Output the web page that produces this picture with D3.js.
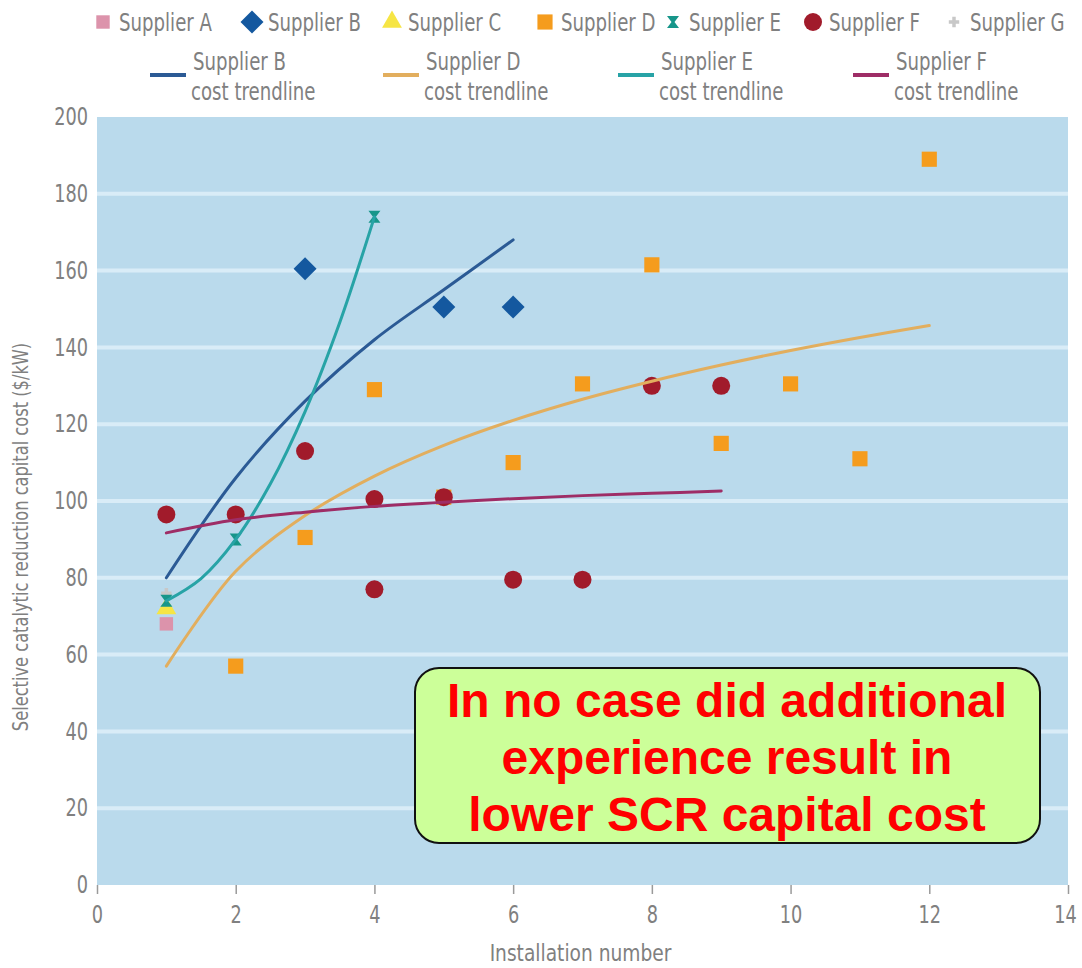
<!DOCTYPE html>
<html>
<head>
<meta charset="utf-8">
<script src="https://cdn.jsdelivr.net/npm/d3@7"></script>
<style>
  html, body { margin: 0; padding: 0; background: #ffffff; }
  svg { display: block; }
  .lbl { font-family: "DejaVu Sans Condensed", "DejaVu Sans", sans-serif; fill: #808080; }
</style>
</head>
<body>
<svg id="chart" width="1082" height="968"></svg>
<script>
// Installed-cost observations per supplier: [installation number, $/kW]
const supplierA = [[1, 68]];
const supplierB = [[3, 160.5], [5, 150.5], [6, 150.5]];
const supplierC = [[1, 72]];
const supplierD = [[2, 57], [3, 90.5], [4, 129], [5, 101], [6, 110], [7, 130.5], [8, 161.5], [9, 115], [10, 130.5], [11, 111], [12, 189]];
const supplierE = [[1, 74], [2, 90], [4, 174]];
const supplierF = [[1, 96.5], [2, 96.5], [3, 113], [4, 100.5], [4, 77], [5, 101], [6, 79.5], [7, 79.5], [8, 130], [9, 130]];
const supplierG = [[1, 76]];

// Cost trendlines, sampled along each fitted curve
const trendB = [[1, 80], [2, 106], [3, 126], [4, 142], [5, 155], [6, 168]];
const trendD = [[1, 57], [2, 81.7], [3, 96.2], [4, 106.5], [5, 114.5], [6, 121], [7, 126.5], [8, 131.2], [9, 135.4], [10, 139.2], [11, 142.6], [12, 145.7]];
const trendE = [[1, 74], [1.5, 79.8], [2, 90], [2.5, 104.5], [3, 123.3], [3.5, 146.5], [4, 174]];
const trendF = [[1, 91.7], [2, 95.1], [3, 97.1], [4, 98.6], [5, 99.7], [6, 100.6], [7, 101.4], [8, 102], [9, 102.6]];

const xTicks = [0, 2, 4, 6, 8, 10, 12, 14];
const yTicks = [0, 20, 40, 60, 80, 100, 120, 140, 160, 180, 200];

const pointLegend = ["Supplier A", "Supplier B", "Supplier C", "Supplier D", "Supplier E", "Supplier F", "Supplier G"];
const lineLegend = ["Supplier B", "Supplier D", "Supplier E", "Supplier F"];
const calloutLines = ["In no case did additional", "experience result in", "lower SCR capital cost"];

const svg = d3.select("#chart");
const plot = { left: 97, right: 1068, top: 117, bottom: 885 };

const x = d3.scaleLinear().domain([0, 14]).range([plot.left, plot.right]);
const y = d3.scaleLinear().domain([0, 200]).range([plot.bottom, plot.top]);

// squeeze text horizontally to mimic a condensed face
function narrow(sel, k) {
  sel.each(function () {
    const len = this.getComputedTextLength();
    d3.select(this).attr("textLength", len * k).attr("lengthAdjust", "spacingAndGlyphs");
  });
}

// plot background
svg.append("rect")
  .attr("x", plot.left).attr("y", plot.top)
  .attr("width", plot.right - plot.left).attr("height", plot.bottom - plot.top)
  .attr("fill", "#badaec");

// horizontal gridlines
svg.append("g").selectAll("line")
  .data(yTicks.filter(d => d > 0 && d < 200))
  .join("line")
  .attr("x1", plot.left).attr("x2", plot.right)
  .attr("y1", d => y(d)).attr("y2", d => y(d))
  .attr("stroke", "#d9ecf7").attr("stroke-width", 4);

// y axis
const yAxis = svg.append("g")
  .attr("transform", `translate(${plot.left},0)`)
  .call(d3.axisLeft(y).tickValues(yTicks).tickSize(0).tickPadding(9));
yAxis.select(".domain").remove();
yAxis.selectAll("text")
  .attr("class", "lbl")
  .style("font-size", "24px")
  .attr("fill", "#808080")
  .call(narrow, 0.82);

// x axis
const xAxis = svg.append("g")
  .attr("transform", `translate(0,${plot.bottom})`)
  .call(d3.axisBottom(x).tickValues(xTicks).tickSize(9).tickPadding(12));
xAxis.select(".domain").remove();
xAxis.selectAll("line").attr("stroke", "#9a9a9a").attr("stroke-width", 1.5);
xAxis.selectAll("text")
  .attr("class", "lbl")
  .style("font-size", "24px")
  .attr("fill", "#808080")
  .call(narrow, 0.82);
// keep the last label inside the page edge
xAxis.selectAll(".tick").filter(d => d === 14).select("text").attr("dx", -3);

// axis titles
svg.append("text").attr("class", "lbl")
  .attr("x", (plot.left + plot.right) / 2 - 2).attr("y", 961)
  .attr("text-anchor", "middle").style("font-size", "23px")
  .text("Installation number")
  .call(narrow, 0.9);

svg.append("text").attr("class", "lbl")
  .attr("transform", `translate(28,${537}) rotate(-90)`)
  .attr("text-anchor", "middle").style("font-size", "21px")
  .text("Selective catalytic reduction capital cost ($/kW)")
  .call(narrow, 0.86);

// marker styles
const colors = {
  A: "#dc93ab", B: "#14589f", C: "#f6e544", D: "#f59c1d",
  E: "#17968a", F: "#a11b2b", G: "#c8c8c8"
};
const symSquare = d3.symbol().type(d3.symbolSquare);
const symTriangle = d3.symbol().type(d3.symbolTriangle);

function hourglass(s) {
  return `M${-s},${-s}L${s},${-s}L${s * 0.25},0L${s},${s}L${-s},${s}L${-s * 0.25},0Z`;
}
function diamond(r) {
  return `M0,${-r}L${r},0L0,${r}L${-r},0Z`;
}

function drawMarker(g, key, cx, cy) {
  if (key === "A") g.append("path").attr("d", symSquare.size(180)()).attr("fill", colors.A);
  if (key === "B") g.append("path").attr("d", diamond(11.5)).attr("fill", colors.B);
  if (key === "C") g.append("path").attr("d", symTriangle.size(170)()).attr("fill", colors.C);
  if (key === "D") g.append("path").attr("d", symSquare.size(230)()).attr("fill", colors.D);
  if (key === "E") g.append("path").attr("d", hourglass(6)).attr("fill", colors.E);
  if (key === "F") g.append("circle").attr("r", 9).attr("fill", colors.F);
  if (key === "G") g.append("path").attr("d", d3.symbol().type(d3.symbolCross).size(60)()).attr("fill", colors.G);
  g.attr("transform", `translate(${cx},${cy})`);
}

const seriesList = [
  ["D", supplierD], ["F", supplierF], ["A", supplierA], ["C", supplierC],
  ["G", supplierG], ["B", supplierB], ["E", supplierE]
];
const pts = svg.append("g");
seriesList.forEach(([key, data]) => {
  data.forEach(d => drawMarker(pts.append("g"), key, x(d[0]), y(d[1])));
});

// trendlines
const line = d3.line().x(d => x(d[0])).y(d => y(d[1])).curve(d3.curveCatmullRom.alpha(0.5));
const trends = [
  [trendB, "#2b5a95"], [trendD, "#e2ae5e"], [trendE, "#27a3a6"], [trendF, "#9e2d66"]
];
const tg = svg.append("g");
trends.forEach(([data, col]) => {
  tg.append("path").attr("d", line(data))
    .attr("fill", "none").attr("stroke", col).attr("stroke-width", 3)
    .attr("stroke-linecap", "round");
});

// legend row 1: markers
const legKeys = ["A", "B", "C", "D", "E", "F", "G"];
const legX = [103, 252, 392, 545, 673, 813, 954];
const leg = svg.append("g");
legKeys.forEach((k, i) => {
  const g = leg.append("g");
  drawMarker(g, k, legX[i], 22);
  leg.append("text").attr("class", "lbl")
    .attr("x", legX[i] + 16).attr("y", 31)
    .style("font-size", "24px").attr("fill", "#7a7a7a")
    .text(pointLegend[i])
    .call(narrow, 0.84);
});

// legend row 2: trendlines
const lineLegX = [150, 383, 618, 853];
const lineLegCol = ["#2b5a95", "#e2ae5e", "#27a3a6", "#9e2d66"];
lineLegend.forEach((name, i) => {
  leg.append("line")
    .attr("x1", lineLegX[i]).attr("x2", lineLegX[i] + 36)
    .attr("y1", 75).attr("y2", 75)
    .attr("stroke", lineLegCol[i]).attr("stroke-width", 4);
  leg.append("text").attr("class", "lbl")
    .style("font-size", "24px").attr("fill", "#7a7a7a")
    .attr("x", lineLegX[i] + 43).attr("y", 70).text(name)
    .call(narrow, 0.84);
  leg.append("text").attr("class", "lbl")
    .style("font-size", "24px").attr("fill", "#7a7a7a")
    .attr("x", lineLegX[i] + 41).attr("y", 100).text("cost trendline")
    .call(narrow, 0.84);
});

// callout box
const box = svg.append("g");
box.append("rect")
  .attr("x", 415).attr("y", 668).attr("width", 625).attr("height", 175)
  .attr("rx", 24).attr("ry", 24)
  .attr("fill", "#ccff99").attr("stroke", "#111").attr("stroke-width", 2);
calloutLines.forEach((s, i) => {
  box.append("text")
    .attr("x", 727).attr("y", 717 + i * 57)
    .attr("text-anchor", "middle")
    .style("font-family", "'Liberation Sans', Arial, sans-serif")
    .style("font-weight", "bold").style("font-size", "48px")
    .attr("fill", "#ff0000")
    .text(s);
});
</script>
</body>
</html>
